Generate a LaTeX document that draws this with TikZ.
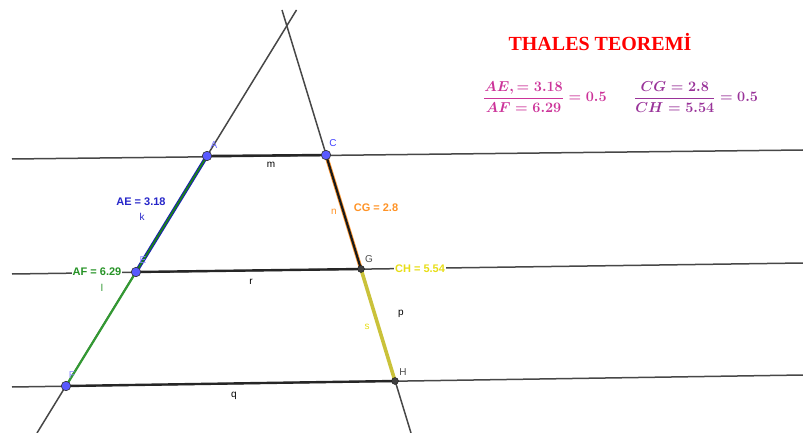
\documentclass[tikz,border=0pt]{standalone}
\usepackage{fontspec}
\setmainfont{Liberation Sans}
\newfontfamily\titlefont{Liberation Serif}
\begin{document}
\begin{tikzpicture}[x=1pt,y=-1pt,
  gline/.style={draw=black!72,line width=1.5pt},
  seg/.style={draw=black!85,line width=2.4pt},
  bpt/.style={circle,fill=blue!65!white,draw=black!80,line width=0.6pt,inner sep=0pt,minimum size=9.5pt},
  dpt/.style={circle,fill=black!75,draw=black!90,line width=0.4pt,inner sep=0pt,minimum size=7pt},
  plab/.style={font=\fontsize{10}{11}\selectfont,inner sep=1pt},
  vlab/.style={font=\fontsize{11}{12}\selectfont\bfseries,inner sep=1pt},
  nlab/.style={font=\fontsize{10}{11}\selectfont,inner sep=1pt}]
\useasboundingbox (0,0) rectangle (803,433);
% line end coordinates
\coordinate (L1a) at (12,159);
\coordinate (L1b) at (803,150);
\coordinate (L2a) at (12,274);
\coordinate (L2b) at (803,263);
\coordinate (L3a) at (12,387);
\coordinate (L3b) at (803,375);
\coordinate (T1a) at (296.5,10);
\coordinate (T1b) at (37,433);
\coordinate (T2a) at (282,10);
\coordinate (T2b) at (411,433);
% points
\coordinate (A) at (207,156);
\coordinate (C) at (326,155);
\coordinate (E) at (136,272);
\coordinate (G) at (361,269);
\coordinate (F) at (66,386);
\coordinate (H) at (395,381);
% full lines
\draw[gline] (L1a) -- (L1b);
\draw[gline] (L2a) -- (L2b);
\draw[gline] (L3a) -- (L3b);
\draw[gline] (T1a) -- (T1b);
\draw[gline] (T2a) -- (T2b);
% segments
\draw[seg] (A) -- (C);
\draw[seg] (E) -- (G);
\draw[seg] (F) -- (H);
\draw[draw=blue!70!black!90,line width=3.6pt] (A) -- (E);
\draw[draw=green!45!black!90,line width=1.8pt] (A) -- (E);
\draw[draw=green!50!black!80,line width=2.2pt] (E) -- (F);
\draw[draw=orange!80,line width=3.8pt] (C) -- (G);
\draw[draw=black!90,line width=2.2pt] (C) -- (G);
\draw[draw=yellow!75!black!95,line width=3.6pt] (G) -- (H);
% labels of values
\node[vlab,text=blue!75!black!85] (lAE) at (141,202) {AE = 3.18};
\node[nlab,text=blue!75!black!85] (lk) at (142,217) {k};
\node[vlab,text=green!50!black!85,fill=white] (lAF) at (97,272) {AF = 6.29};
\node[nlab,text=green!50!black!85] (ll) at (102,288) {l};
\node[vlab,text=orange!85] (lCG) at (376,208) {CG = 2.8};
\node[nlab,text=orange!85] (ln) at (334,212) {n};
\node[vlab,text=yellow!90!black,fill=white] (lCH) at (420,269) {CH = 5.54};
\node[nlab,text=yellow!90!black] (ls) at (367,327) {s};
\node[nlab] (lp) at (401,314) {p};
\node[nlab] (lm) at (271,165) {m};
\node[nlab] (lr) at (251,282) {r};
\node[nlab] (lq) at (234,396) {q};
% points drawn
\node[bpt] (pA) at (A) {};
\node[bpt] (pC) at (C) {};
\node[bpt] (pE) at (E) {};
\node[bpt] (pF) at (F) {};
\node[dpt] (pG) at (G) {};
\node[dpt] (pH) at (H) {};
\node[plab,text=blue!55!white] (tA) at (214,145) {A};
\node[plab,text=blue!75!white] (tC) at (333,143) {C};
\node[plab,text=blue!45!white] (tE) at (143,260) {E};
\node[plab,text=black!70] (tG) at (369,259) {G};
\node[plab,text=blue!45!white] (tF) at (72,375) {F};
\node[plab,text=black!70] (tH) at (403,372) {H};
% title
\node[text=red,font=\titlefont\fontsize{20}{24}\selectfont\bfseries] (title) at (600,42) {THALES TEOREMİ};
% formulas
\definecolor{mag}{HTML}{CC3399}
\definecolor{pur}{HTML}{993399}
\node[anchor=west,text=mag,inner sep=0pt,font=\fontsize{15}{17}\selectfont\boldmath] (f1) at (483,97)
  {$\displaystyle\frac{AE,=3.18}{AF=6.29}=0.5$};
\node[anchor=west,text=pur,inner sep=0pt,font=\fontsize{15}{17}\selectfont\boldmath] (f2) at (634,97)
  {$\displaystyle\frac{CG=2.8}{CH=5.54}=0.5$};
\end{tikzpicture}
\end{document}
